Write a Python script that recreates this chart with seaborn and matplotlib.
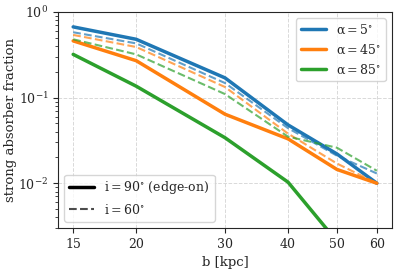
import numpy as np
import pandas as pd
import matplotlib
matplotlib.use("Agg")
import matplotlib.pyplot as plt
import seaborn as sns
from matplotlib.lines import Line2D
from matplotlib.ticker import FixedLocator, FixedFormatter, NullLocator

b = [15, 20, 30, 40, 50, 60]
alphas = [5, 45, 85]

# edge-on (i = 90 deg)
edge_a5 = [0.67, 0.48, 0.17, 0.048, 0.022, 0.010]
edge_a45 = [0.46, 0.27, 0.064, 0.033, 0.0145, 0.010]
edge_a85 = [0.32, 0.136, 0.034, 0.0103, 0.0021, 0.0010]

# i = 60 deg
i60_a5 = [0.58, 0.43, 0.148, 0.044, 0.021, 0.013]
i60_a45 = [0.54, 0.39, 0.133, 0.038, 0.017, 0.010]
i60_a85 = [0.48, 0.32, 0.11, 0.035, 0.026, 0.014]

colors = ["#1f77b4", "#ff7f0e", "#2ca02c"]

sns.set_style("ticks")
plt.rcParams["font.family"] = ["DejaVu Serif"]
plt.rcParams["mathtext.fontset"] = "dejavuserif"
plt.rcParams["font.size"] = 9.5

fig = plt.figure(figsize=(3.99, 2.69), dpi=100)
ax = fig.add_axes([58 / 399, 1 - 228 / 269, (392 - 58) / 399, (228 - 12) / 269])

for a, y, c in zip(alphas, [edge_a5, edge_a45, edge_a85], colors):
    df = pd.DataFrame({"b": b, "f": y})
    sns.lineplot(data=df, x="b", y="f", ax=ax, color=c, lw=2.5)
for a, y, c in zip(alphas, [i60_a5, i60_a45, i60_a85], colors):
    df = pd.DataFrame({"b": b, "f": y})
    sns.lineplot(data=df, x="b", y="f", ax=ax, color=c, lw=1.5,
                 linestyle="--", alpha=0.7)

ax.set_xscale("log")
ax.set_yscale("log")
ax.set_ylim(3e-3, 1)
ax.xaxis.set_major_locator(FixedLocator(b))
ax.xaxis.set_major_formatter(FixedFormatter([str(v) for v in b]))
ax.xaxis.set_minor_locator(NullLocator())
ax.tick_params(labelsize=9)
ax.grid(True, which="major", ls="--", color="0.85", lw=0.7)
ax.set_xlabel("b [kpc]")
ax.set_ylabel("strong absorber fraction", labelpad=1)

h1 = [Line2D([], [], color=c, lw=2.5) for c in colors]
leg1 = ax.legend(h1, [r"$\mathrm{\alpha = %d^{\circ}}$" % a for a in alphas],
                 loc="upper right", fontsize=9)
ax.add_artist(leg1)
h2 = [Line2D([], [], color="k", lw=2.5),
      Line2D([], [], color="k", lw=1.5, ls="--", alpha=0.7)]
ax.legend(h2, [r"$\mathrm{i = 90^{\circ}}$ (edge-on)", r"$\mathrm{i = 60^{\circ}}$"],
          loc="lower left", fontsize=9)

fig.savefig("out.png", dpi=100)
